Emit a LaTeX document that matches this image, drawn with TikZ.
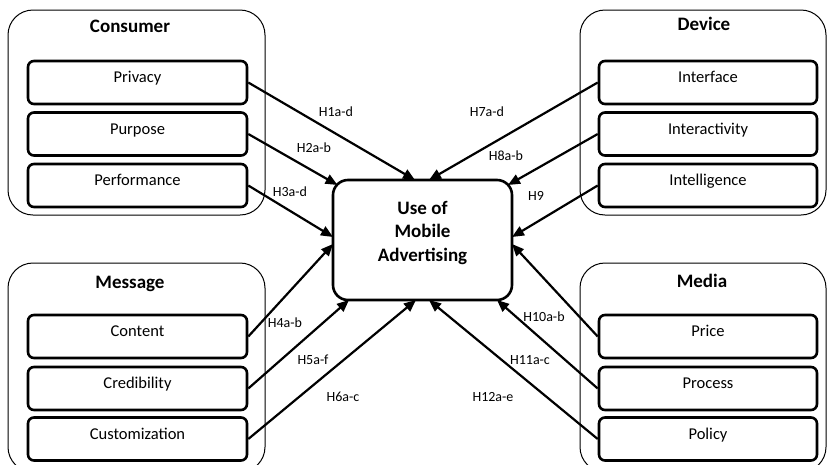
\documentclass[tikz,border=0pt]{standalone}
\usepackage{fontspec}
\setmainfont{Carlito}
\usetikzlibrary{arrows.meta}
\tikzset{
  groupbox/.style={draw, line width=1pt, rounded corners=25pt},
  grouptitle/.style={anchor=base, font=\fontsize{19}{22}\selectfont\bfseries, inner sep=0pt},
  itembox/.style={draw, line width=2.6pt, rounded corners=6pt, minimum width=218pt,
    text height=21.5pt, text depth=21.5pt, inner xsep=0pt, inner ysep=0pt,
    font=\fontsize{16.5}{19}\selectfont},
  centerbox/.style={draw, line width=2.6pt, rounded corners=15pt, minimum width=179pt,
    minimum height=120pt, inner sep=0pt},
  centertext/.style={align=center, font=\fontsize{19}{23.5}\selectfont\bfseries, inner sep=0pt, yshift=7pt},
  hyp/.style={font=\fontsize{14}{16}\selectfont, inner sep=0pt},
  arr/.style={line width=2.2pt, -{Triangle[length=12pt,width=10pt]}}
}
\begin{document}
\begin{tikzpicture}[x=1pt,y=-1pt]
\useasboundingbox (0,0) rectangle (828,464);
% group boxes
\draw[groupbox] (8,10) rectangle (265,215);
\draw[groupbox] (580,10) rectangle (826,215);
\draw[groupbox] (8,263) rectangle (265,472);
\draw[groupbox] (580,263) rectangle (826,472);
\node[grouptitle] (tconsumer) at (130,32) {Consumer};
\node[grouptitle] (tdevice) at (704,30) {Device};
\node[grouptitle] (tmessage) at (130,288) {Message};
\node[grouptitle] (tmedia) at (702,287) {Media};
% items left
\node[itembox, minimum width=219pt] (privacy) at (137.5,82.5) {Privacy};
\node[itembox, minimum width=219pt] (purpose) at (137.5,134) {Purpose};
\node[itembox, minimum width=219pt] (performance) at (137.5,185.5) {Performance};
\node[itembox, minimum width=219pt] (content) at (137.5,336.5) {Content};
\node[itembox, minimum width=219pt] (credibility) at (137.5,388.5) {Credibility};
\node[itembox, minimum width=219pt] (customization) at (137.5,439) {Customization};
% items right
\node[itembox] (interface) at (708,82.5) {Interface};
\node[itembox] (interactivity) at (708,134) {Interactivity};
\node[itembox] (intelligence) at (708,185.5) {Intelligence};
\node[itembox] (price) at (708,336.5) {Price};
\node[itembox] (process) at (708,388.5) {Process};
\node[itembox] (policy) at (708,439) {Policy};
% center
\node[centerbox, label={[centertext]center:{Use of\\Mobile\\Advertising}}] (use) at (422.5,240) {};
% end points on the center box
\coordinate (e1) at (415,180);
\coordinate (e2) at (337.5,185);
\coordinate (e3) at (333,237);
\coordinate (e4) at (333,244);
\coordinate (e5) at (349,300);
\coordinate (e6) at (416,300);
\coordinate (e7) at (429,180);
\coordinate (e8) at (508,185);
\coordinate (e9) at (512,237);
\coordinate (e10) at (512,244);
\coordinate (e11) at (497,300);
\coordinate (e12) at (429,300);
% arrows
\draw[arr] (privacy.east) -- (e1);
\draw[arr] (purpose.east) -- (e2);
\draw[arr] (performance.east) -- (e3);
\draw[arr] (content.east) -- (e4);
\draw[arr] (credibility.east) -- (e5);
\draw[arr] (customization.east) -- (e6);
\draw[arr] (interface.west) -- (e7);
\draw[arr] (interactivity.west) -- (e8);
\draw[arr] (intelligence.west) -- (e9);
\draw[arr] (price.west) -- (e10);
\draw[arr] (process.west) -- (e11);
\draw[arr] (policy.west) -- (e12);
% labels
\node[hyp] (l1) at (336,112) {H1a-d};
\node[hyp] (l2) at (314,148) {H2a-b};
\node[hyp] (l3) at (290,192) {H3a-d};
\node[hyp] (l4) at (285,323) {H4a-b};
\node[hyp] (l5) at (313,360) {H5a-f};
\node[hyp] (l6) at (343,397) {H6a-c};
\node[hyp] (l7) at (487,112) {H7a-d};
\node[hyp] (l8) at (506,156) {H8a-b};
\node[hyp] (l9) at (536,196) {H9};
\node[hyp] (l10) at (544,317) {H10a-b};
\node[hyp] (l11) at (530,360) {H11a-c};
\node[hyp] (l12) at (493,397) {H12a-e};
\end{tikzpicture}
\end{document}
